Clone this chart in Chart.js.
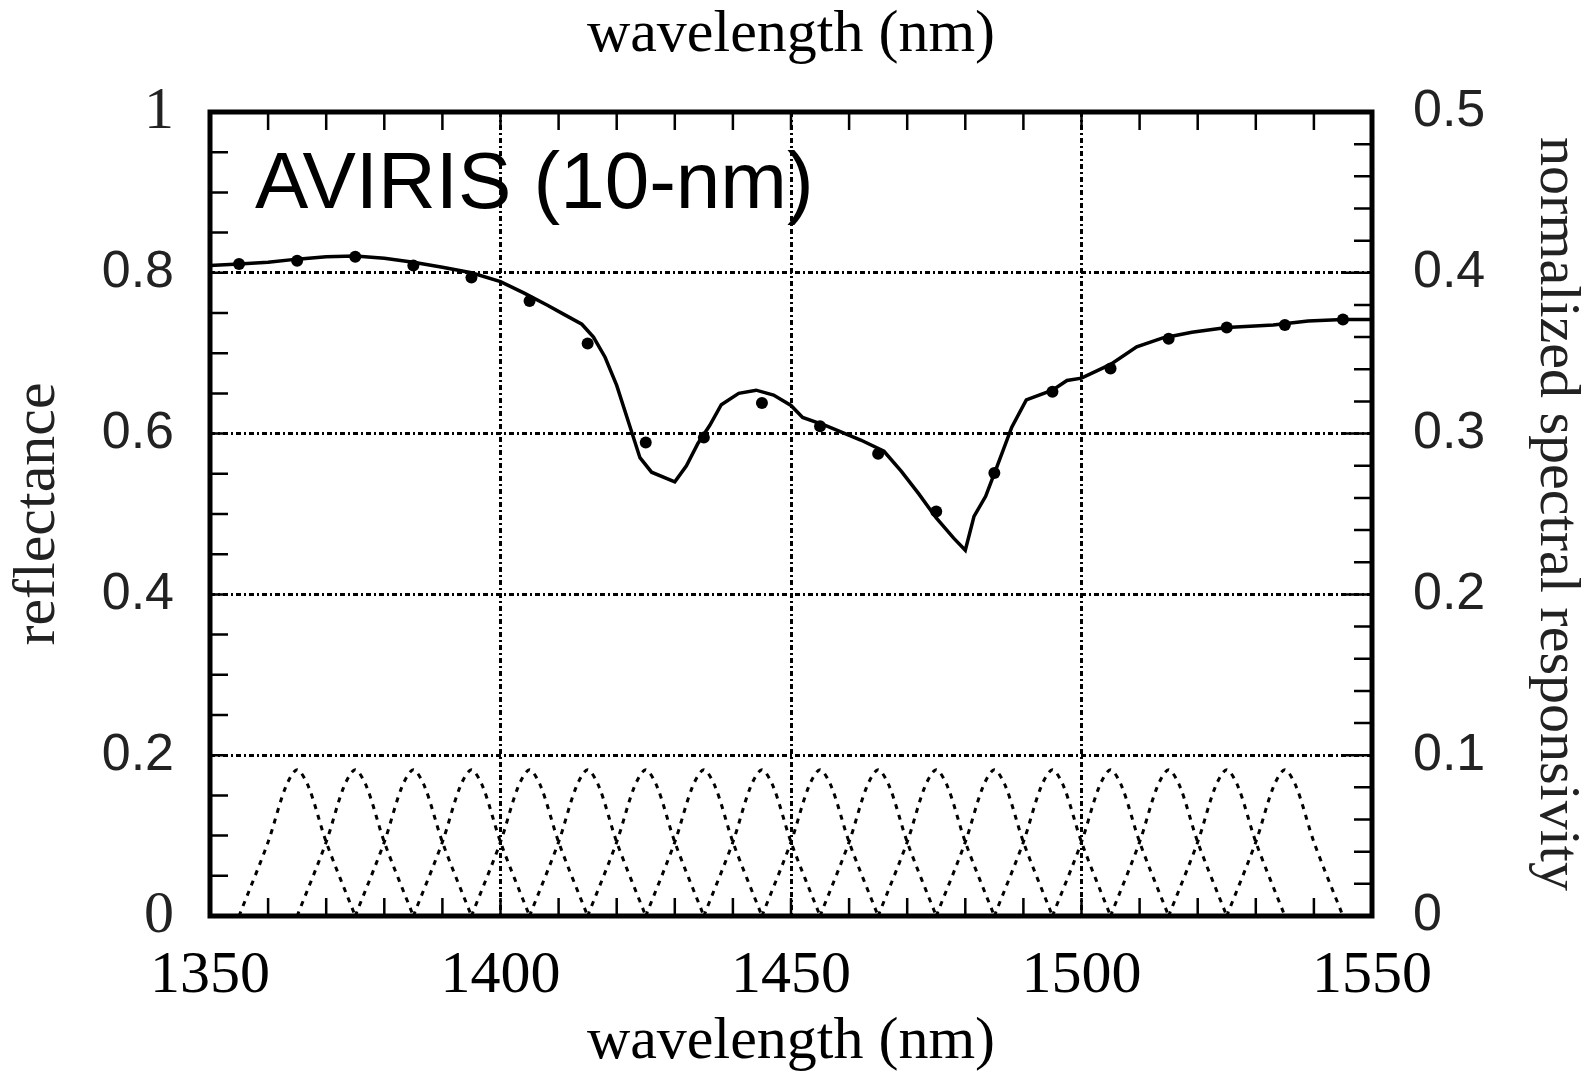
<!DOCTYPE html>
<html>
<head>
<meta charset="utf-8">
<script src="https://cdn.jsdelivr.net/npm/chart.js@4/dist/chart.umd.min.js"></script>
<style>
  body { margin: 0; background: #fff; }
  #wrap { width: 1585px; height: 1078px; }
</style>
</head>
<body>
<div id="wrap"><canvas id="c"></canvas></div>
<script>
// high resolution reflectance spectrum (solid line)
const specWl = [1350, 1355, 1360, 1365, 1370, 1375, 1380, 1385, 1390, 1395, 1400, 1404, 1408, 1411, 1414, 1416, 1418, 1420, 1422, 1424,
  1426, 1430, 1432, 1434, 1436, 1438, 1441, 1444, 1447, 1450, 1452, 1456, 1462, 1466, 1469, 1472, 1475, 1478, 1480, 1481.5,
  1483.5, 1485.5, 1488, 1490.5, 1495, 1497.5, 1500, 1505, 1509.5, 1514, 1519, 1525, 1533, 1539, 1545, 1550];
const specRefl = [0.809, 0.811, 0.813, 0.817, 0.820, 0.821, 0.818, 0.813, 0.807, 0.800, 0.789, 0.775, 0.760, 0.748, 0.736, 0.720, 0.695, 0.660, 0.615, 0.570,
  0.552, 0.540, 0.560, 0.588, 0.610, 0.636, 0.650, 0.654, 0.648, 0.635, 0.620, 0.610, 0.592, 0.578, 0.553, 0.525, 0.495, 0.470, 0.455, 0.497,
  0.522, 0.560, 0.608, 0.642, 0.654, 0.666, 0.669, 0.686, 0.708, 0.719, 0.726, 0.732, 0.735, 0.740, 0.742, 0.742];

// AVIRIS band averaged reflectance (dots)
const bandWl = [1355, 1365, 1375, 1385, 1395, 1405, 1415, 1425, 1435, 1445, 1455, 1465, 1475, 1485, 1495, 1505, 1515, 1525, 1535, 1545];
const bandRefl = [0.811, 0.815, 0.820, 0.809, 0.794, 0.765, 0.712, 0.589, 0.595, 0.638, 0.609, 0.575, 0.503, 0.551, 0.652, 0.681, 0.718, 0.732, 0.735, 0.742];

// spectral response functions (dotted), one per band centre
const respCenters = [1365, 1375, 1385, 1395, 1405, 1415, 1425, 1435, 1445, 1455, 1465, 1475, 1485, 1495, 1505, 1515, 1525, 1535];
const respOffset = [-10, -5, -2, 0, 2, 5, 10];
const respShape = [0, 0.046, 0.080, 0.091, 0.080, 0.046, 0];

const xTicks = [1350, 1400, 1450, 1500, 1550];

const SERIF = '"Liberation Serif", "Times New Roman", serif';
const SANS = '"Liberation Sans", Arial, sans-serif';

var datasets = [{
  label: 'spectrum',
  data: specWl.map((w, i) => ({x: w, y: specRefl[i]})),
  borderColor: '#000',
  borderWidth: 3.5,
  pointRadius: 0,
  tension: 0,
  xAxisID: 'x',
  yAxisID: 'y'
}, {
  label: 'AVIRIS',
  data: bandWl.map((w, i) => ({x: w, y: bandRefl[i]})),
  showLine: false,
  pointRadius: 6,
  pointBackgroundColor: '#000',
  pointBorderWidth: 0,
  xAxisID: 'x',
  yAxisID: 'y'
}];

respCenters.forEach(c => {
  datasets.push({
    label: 'srf ' + c,
    data: respOffset.map((o, i) => ({x: c + o, y: respShape[i]})),
    borderColor: '#000',
    borderWidth: 3,
    borderDash: [5, 6],
    pointRadius: 0,
    tension: 0.3,
    xAxisID: 'x',
    yAxisID: 'y2'
  });
});

// frame, inward tick marks and the in-plot label
const frame = {
  id: 'frame',
  afterDraw(chart) {
    const ctx = chart.ctx, a = chart.chartArea, s = chart.scales;
    ctx.save();
    ctx.strokeStyle = '#000';
    ctx.lineWidth = 2.5;
    ctx.beginPath();
    for (let v = 1360; v < 1550; v += 10) {
      const px = s.x.getPixelForValue(v);
      ctx.moveTo(px, a.bottom); ctx.lineTo(px, a.bottom - 18);
      ctx.moveTo(px, a.top); ctx.lineTo(px, a.top + 18);
    }
    for (let k = 1; k < 20; k++) {
      const py = s.y.getPixelForValue(k * 0.05);
      ctx.moveTo(a.left, py); ctx.lineTo(a.left + 18, py);
    }
    for (let k = 1; k < 25; k++) {
      const py = s.y2.getPixelForValue(k * 0.02);
      const len = k % 5 === 0 ? 26 : 18;
      ctx.moveTo(a.right, py); ctx.lineTo(a.right - len, py);
    }
    ctx.stroke();
    ctx.lineWidth = 5;
    ctx.strokeRect(a.left, a.top, a.right - a.left, a.bottom - a.top);

    ctx.fillStyle = '#000';
    ctx.font = '80px ' + SANS;
    ctx.textAlign = 'left';
    ctx.textBaseline = 'alphabetic';
    ctx.fillText('AVIRIS (10-nm)', a.left + 45, a.top + 96);
    ctx.restore();
  }
};

const gridColor = c => (c.tick && (c.tick.value > c.scale.min && c.tick.value < c.scale.max)) ? '#000' : 'transparent';
const plain = v => String(Number(v.toFixed(2)));

new Chart(document.getElementById('c'), {
  type: 'line',
  data: { datasets: datasets },
  options: {
    responsive: true,
    maintainAspectRatio: false,
    animation: false,
    layout: { padding: 0 },
    plugins: { legend: { display: false }, tooltip: { enabled: false } },
    scales: {
      x: {
        type: 'linear', position: 'bottom', min: 1350, max: 1550,
        afterBuildTicks: s => { s.ticks = xTicks.map(v => ({value: v})); },
        ticks: { padding: 30, autoSkip: false, maxRotation: 0, color: '#000', callback: plain,
          font: { family: SERIF, size: 60, lineHeight: 1 } },
        grid: { color: gridColor, lineWidth: 3, drawTicks: false, borderDash: [5, 3, 2, 3] },
        border: { display: false, dash: [5, 3, 2, 3] },
        title: { display: true, text: 'wavelength (nm)', color: '#000',
          font: { family: SERIF, size: 60, lineHeight: 1 }, padding: { top: 0, bottom: 6 } },
        afterFit: s => { s.height = 162; }
      },
      x2: {
        type: 'linear', position: 'top', min: 1350, max: 1550,
        ticks: { display: false },
        grid: { display: false },
        border: { display: false },
        title: { display: true, text: 'wavelength (nm)', color: '#000',
          font: { family: SERIF, size: 60, lineHeight: 1 }, padding: { top: 5, bottom: 0 } },
        afterFit: s => { s.height = 112; }
      },
      y: {
        type: 'linear', position: 'left', min: 0, max: 1,
        ticks: { stepSize: 0.2, padding: 36, color: '#222', callback: plain,
          font: c => (c.tick && (c.tick.value === 0 || c.tick.value === 1))
            ? { family: SERIF, size: 60, lineHeight: 1 }
            : { family: SANS, size: 52, lineHeight: 1 } },
        grid: { color: gridColor, lineWidth: 3, drawTicks: false, borderDash: [5, 3, 2, 3] },
        border: { display: false, dash: [5, 3, 2, 3] },
        title: { display: true, text: 'reflectance', color: '#222',
          font: { family: SERIF, size: 60, lineHeight: 1 }, padding: { top: 8, bottom: 0 } },
        afterFit: s => { s.width = 210; }
      },
      y2: {
        type: 'linear', position: 'right', min: 0, max: 0.5,
        ticks: { stepSize: 0.1, padding: 41, color: '#222', callback: plain,
          font: { family: SANS, size: 52, lineHeight: 1 } },
        grid: { drawOnChartArea: false, drawTicks: false },
        border: { display: false },
        title: { display: true, text: 'normalized spectral responsivity', color: '#222',
          font: { family: SERIF, size: 58, lineHeight: 1 }, padding: { top: 0, bottom: 0 } },
        afterFit: s => { s.width = 213; }
      }
    }
  },
  plugins: [frame]
});
</script>
</body>
</html>
